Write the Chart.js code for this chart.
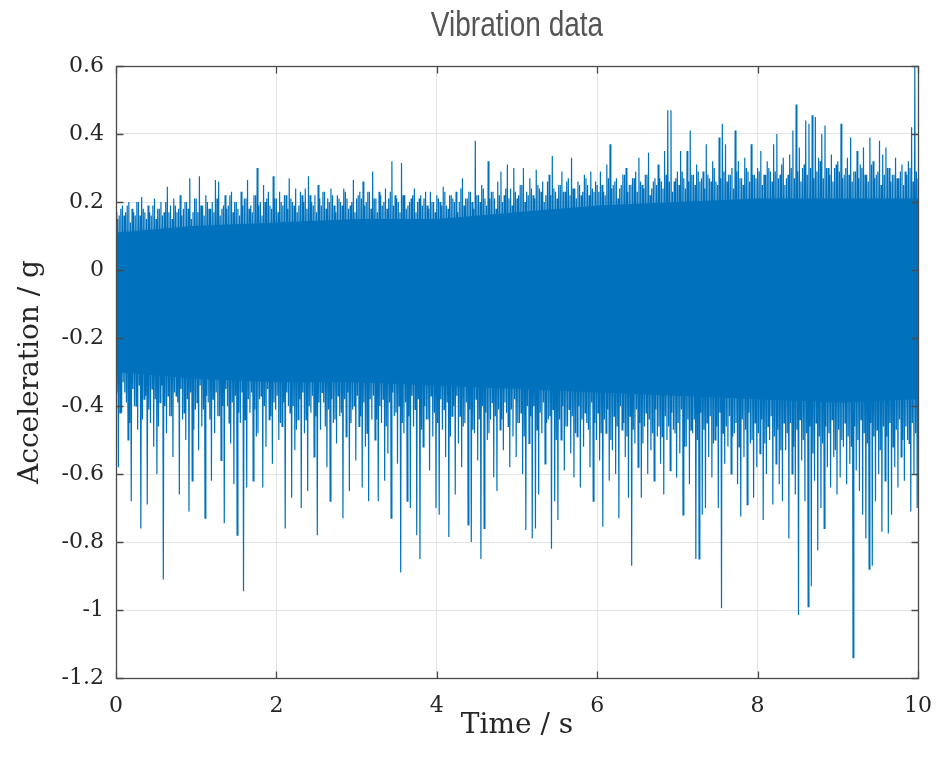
<!DOCTYPE html>
<html>
<head>
<meta charset="utf-8">
<script src="https://cdn.jsdelivr.net/npm/chart.js@4.4.1/dist/chart.umd.min.js"></script>
<style>
  html, body { margin: 0; padding: 0; background: #fff; }
  #wrap { width: 936px; height: 759px; position: relative; }
</style>
</head>
<body>
<div id="wrap"><canvas id="chart"></canvas></div>
<script>
const TITLE = "Vibration data";

// per 0.04 s: upper peak, lower fringe, upper fringe, lower peak
const SAMPLE_STEP = 0.04;
const upperPeaks = [
  0.17, 0.16, 0.19, 0.17, 0.20, 0.18, 0.16, 0.20, 0.215, 0.17,
  0.19, 0.16, 0.21, 0.18, 0.20, 0.17, 0.245, 0.19, 0.21, 0.17,
  0.22, 0.18, 0.20, 0.27, 0.17, 0.21, 0.276, 0.19, 0.22, 0.18,
  0.20, 0.265, 0.26, 0.18, 0.22, 0.19, 0.23, 0.20, 0.18, 0.23,
  0.21, 0.265, 0.19, 0.22, 0.30, 0.20, 0.25, 0.21, 0.19, 0.276,
  0.21, 0.23, 0.19, 0.22, 0.27, 0.20, 0.24, 0.19, 0.22, 0.24,
  0.276, 0.20, 0.22, 0.25, 0.19, 0.23, 0.21, 0.24, 0.19, 0.22,
  0.20, 0.24, 0.21, 0.19, 0.265, 0.21, 0.23, 0.26, 0.20, 0.23,
  0.29, 0.21, 0.23, 0.19, 0.24, 0.21, 0.32, 0.22, 0.20, 0.315,
  0.22, 0.19, 0.21, 0.24, 0.20, 0.22, 0.21, 0.19, 0.23, 0.20,
  0.22, 0.20, 0.245, 0.19, 0.22, 0.21, 0.23, 0.20, 0.27, 0.21,
  0.23, 0.20, 0.38, 0.22, 0.25, 0.21, 0.32, 0.23, 0.21, 0.26,
  0.29, 0.22, 0.31, 0.24, 0.30, 0.21, 0.25, 0.30, 0.23, 0.27,
  0.22, 0.295, 0.24, 0.26, 0.22, 0.28, 0.335, 0.23, 0.25, 0.29,
  0.23, 0.27, 0.33, 0.24, 0.26, 0.22, 0.28, 0.25, 0.29, 0.23,
  0.25, 0.29, 0.23, 0.31, 0.37, 0.25, 0.27, 0.24, 0.28, 0.30,
  0.25, 0.27, 0.29, 0.33, 0.25, 0.28, 0.345, 0.24, 0.27, 0.31,
  0.26, 0.35, 0.47, 0.47, 0.26, 0.29, 0.35, 0.27, 0.35, 0.41,
  0.28, 0.31, 0.26, 0.29, 0.37, 0.27, 0.32, 0.26, 0.39, 0.43,
  0.37, 0.28, 0.30, 0.41, 0.32, 0.27, 0.33, 0.29, 0.37, 0.28,
  0.30, 0.35, 0.28, 0.32, 0.29, 0.37, 0.40, 0.28, 0.33, 0.27,
  0.34, 0.41, 0.487, 0.36, 0.30, 0.44, 0.43, 0.455, 0.45, 0.33,
  0.40, 0.425, 0.30, 0.34, 0.30, 0.32, 0.43, 0.28, 0.33, 0.39,
  0.29, 0.35, 0.31, 0.36, 0.28, 0.39, 0.32, 0.28, 0.38, 0.34,
  0.36, 0.30, 0.28, 0.33, 0.27, 0.31, 0.29, 0.32, 0.42, 0.596, 0.27
];
const lowerFringe = [
  -0.36, -0.42, -0.33, -0.39, -0.45, -0.35, -0.40, -0.34, -0.44, -0.37,
  -0.41, -0.35, -0.38, -0.46, -0.34, -0.40, -0.37, -0.43, -0.36, -0.39,
  -0.35, -0.42, -0.38, -0.36, -0.47, -0.39, -0.34, -0.41, -0.37, -0.44,
  -0.38, -0.36, -0.43, -0.40, -0.35, -0.45, -0.39, -0.37, -0.42, -0.36,
  -0.44, -0.38, -0.36, -0.41, -0.48, -0.37, -0.40, -0.35, -0.43, -0.39,
  -0.37, -0.45, -0.39, -0.36, -0.42, -0.40, -0.47, -0.38, -0.36, -0.44,
  -0.40, -0.37, -0.43, -0.39, -0.36, -0.46, -0.41, -0.38, -0.44, -0.37,
  -0.42, -0.38, -0.36, -0.45, -0.40, -0.37, -0.43, -0.39, -0.48, -0.38,
  -0.37, -0.44, -0.40, -0.38, -0.46, -0.39, -0.36, -0.42, -0.40, -0.45,
  -0.39, -0.43, -0.37, -0.41, -0.38, -0.47, -0.40, -0.44, -0.37, -0.42,
  -0.45, -0.38, -0.41, -0.39, -0.49, -0.40, -0.37, -0.43, -0.46, -0.39,
  -0.41, -0.47, -0.38, -0.44, -0.40, -0.42, -0.48, -0.39, -0.43, -0.41,
  -0.44, -0.39, -0.46, -0.41, -0.38, -0.45, -0.42, -0.49, -0.40, -0.43,
  -0.40, -0.47, -0.42, -0.39, -0.45, -0.43, -0.41, -0.50, -0.44, -0.40,
  -0.46, -0.41, -0.43, -0.48, -0.40, -0.44, -0.42, -0.47, -0.39, -0.45,
  -0.42, -0.48, -0.44, -0.41, -0.50, -0.43, -0.46, -0.40, -0.45, -0.49,
  -0.43, -0.47, -0.41, -0.45, -0.51, -0.42, -0.44, -0.48, -0.41, -0.46,
  -0.49, -0.43, -0.46, -0.42, -0.48, -0.45, -0.41, -0.52, -0.44, -0.47,
  -0.44, -0.50, -0.42, -0.47, -0.45, -0.43, -0.51, -0.46, -0.42, -0.48,
  -0.46, -0.43, -0.49, -0.45, -0.52, -0.44, -0.47, -0.42, -0.50, -0.45,
  -0.48, -0.44, -0.51, -0.46, -0.43, -0.49, -0.47, -0.53, -0.45, -0.48,
  -0.45, -0.52, -0.47, -0.44, -0.50, -0.48, -0.46, -0.54, -0.45, -0.49,
  -0.51, -0.46, -0.48, -0.44, -0.53, -0.47, -0.50, -0.45, -0.49, -0.52,
  -0.46, -0.50, -0.44, -0.48, -0.51, -0.45, -0.49, -0.47, -0.53, -0.46,
  -0.49, -0.45, -0.52, -0.47, -0.44, -0.50, -0.46, -0.51, -0.45, -0.48
];
const upperFringe = [
  0.15, 0.18, 0.16, 0.19, 0.14, 0.17, 0.20, 0.16, 0.18, 0.15,
  0.17, 0.19, 0.15, 0.18, 0.16, 0.20, 0.17, 0.15, 0.19, 0.18,
  0.16, 0.20, 0.18, 0.15, 0.21, 0.17, 0.19, 0.16, 0.20, 0.18,
  0.17, 0.21, 0.16, 0.19, 0.18, 0.22, 0.17, 0.20, 0.16, 0.19,
  0.21, 0.18, 0.17, 0.22, 0.19, 0.16, 0.20, 0.23, 0.18, 0.21,
  0.17, 0.20, 0.22, 0.18, 0.21, 0.19, 0.17, 0.23, 0.20, 0.18,
  0.22, 0.19, 0.17, 0.21, 0.23, 0.18, 0.20, 0.22, 0.17, 0.21,
  0.19, 0.23, 0.18, 0.20, 0.17, 0.22, 0.21, 0.19, 0.23, 0.18,
  0.21, 0.17, 0.22, 0.20, 0.18, 0.23, 0.19, 0.21, 0.17, 0.22,
  0.18, 0.20, 0.22, 0.17, 0.21, 0.19, 0.23, 0.18, 0.20, 0.17,
  0.21, 0.19, 0.23, 0.18, 0.22, 0.20, 0.17, 0.24, 0.19, 0.21,
  0.23, 0.18, 0.22, 0.20, 0.24, 0.19, 0.21, 0.23, 0.18, 0.22,
  0.20, 0.24, 0.21, 0.19, 0.23, 0.22, 0.25, 0.20, 0.22, 0.24,
  0.21, 0.25, 0.23, 0.20, 0.26, 0.22, 0.24, 0.21, 0.25, 0.23,
  0.26, 0.22, 0.24, 0.21, 0.25, 0.23, 0.27, 0.22, 0.24, 0.26,
  0.23, 0.25, 0.22, 0.27, 0.24, 0.26, 0.21, 0.25, 0.28, 0.23,
  0.25, 0.27, 0.23, 0.26, 0.24, 0.28, 0.22, 0.26, 0.25, 0.27,
  0.24, 0.28, 0.26, 0.23, 0.27, 0.25, 0.29, 0.24, 0.26, 0.28,
  0.25, 0.29, 0.27, 0.24, 0.28, 0.26, 0.30, 0.25, 0.27, 0.29,
  0.26, 0.28, 0.24, 0.29, 0.27, 0.25, 0.30, 0.26, 0.28, 0.27,
  0.29, 0.25, 0.28, 0.30, 0.26, 0.29, 0.27, 0.31, 0.25, 0.28,
  0.30, 0.27, 0.29, 0.26, 0.31, 0.28, 0.30, 0.27, 0.29, 0.32,
  0.27, 0.30, 0.28, 0.26, 0.31, 0.29, 0.27, 0.30, 0.28, 0.26,
  0.29, 0.27, 0.30, 0.28, 0.26, 0.31, 0.27, 0.29, 0.25, 0.28,
  0.30, 0.26, 0.28, 0.27, 0.29, 0.25, 0.28, 0.30, 0.26, 0.29
];
const lowerPeaks = [
  -0.58, -0.42, -0.36, -0.50, -0.68, -0.40, -0.47, -0.76, -0.38, -0.69,
  -0.45, -0.52, -0.60, -0.39, -0.91, -0.48, -0.43, -0.55, -0.37, -0.66,
  -0.44, -0.50, -0.71, -0.62, -0.41, -0.53, -0.46, -0.73, -0.39, -0.62,
  -0.48, -0.43, -0.56, -0.745, -0.40, -0.51, -0.63, -0.78, -0.45, -0.945,
  -0.64, -0.42, -0.62, -0.49, -0.38, -0.64, -0.52, -0.44, -0.57, -0.41,
  -0.50, -0.46, -0.76, -0.40, -0.67, -0.53, -0.44, -0.70, -0.48, -0.65,
  -0.42, -0.55, -0.78, -0.47, -0.39, -0.58, -0.68, -0.45, -0.51, -0.43,
  -0.73, -0.49, -0.65, -0.41, -0.56, -0.46, -0.64, -0.52, -0.68, -0.44,
  -0.50, -0.68, -0.45, -0.62, -0.54, -0.73, -0.43, -0.57, -0.89, -0.48,
  -0.68, -0.70, -0.46, -0.78, -0.85, -0.52, -0.44, -0.59, -0.49, -0.70,
  -0.72, -0.47, -0.55, -0.785, -0.43, -0.66, -0.51, -0.58, -0.45, -0.75,
  -0.80, -0.48, -0.56, -0.85, -0.76, -0.50, -0.44, -0.61, -0.65, -0.47,
  -0.53, -0.42, -0.58, -0.49, -0.55, -0.45, -0.60, -0.765, -0.51, -0.79,
  -0.76, -0.66, -0.48, -0.57, -0.44, -0.82, -0.68, -0.735, -0.50, -0.59,
  -0.46, -0.54, -0.61, -0.49, -0.64, -0.52, -0.45, -0.58, -0.68, -0.50,
  -0.56, -0.755, -0.48, -0.62, -0.53, -0.60, -0.73, -0.47, -0.55, -0.67,
  -0.87, -0.51, -0.58, -0.67, -0.46, -0.60, -0.53, -0.62, -0.49, -0.57,
  -0.66, -0.50, -0.59, -0.47, -0.61, -0.54, -0.72, -0.52, -0.63, -0.48,
  -0.85, -0.85, -0.72, -0.70, -0.55, -0.61, -0.50, -0.70, -0.995, -0.57,
  -0.52, -0.60, -0.48, -0.63, -0.725, -0.55, -0.69, -0.51, -0.67, -0.58,
  -0.54, -0.735, -0.60, -0.50, -0.69, -0.57, -0.63, -0.68, -0.53, -0.79,
  -0.60, -0.66, -1.015, -0.56, -0.68, -0.99, -0.93, -0.62, -0.825, -0.70,
  -0.76, -0.58, -0.64, -0.55, -0.66, -0.61, -0.52, -0.63, -0.57, -1.14,
  -0.59, -0.65, -0.72, -0.79, -0.88, -0.87, -0.68, -0.60, -0.77, -0.62,
  -0.775, -0.72, -0.58, -0.64, -0.55, -0.62, -0.50, -0.71, -0.60, -0.70
];

// edges of the solid core of the trace, one reading per second
const bandTime = [0, 1, 2, 3, 4, 5, 6, 7, 8, 9, 10];
const bandTop = [0.11, 0.13, 0.14, 0.15, 0.15, 0.17, 0.19, 0.20, 0.21, 0.21, 0.21];
const bandBottom = [-0.30, -0.32, -0.33, -0.33, -0.34, -0.35, -0.36, -0.37, -0.38, -0.39, -0.38];

const BLUE = "#0072BD";

const signal = [];
upperPeaks.forEach((v, i) => {
  const t = i * SAMPLE_STEP;
  signal.push({ x: t, y: v });
  if (i < lowerPeaks.length) {
    signal.push({ x: t + SAMPLE_STEP / 4, y: lowerFringe[i] });
    signal.push({ x: t + SAMPLE_STEP / 2, y: upperFringe[i] });
    signal.push({ x: t + (3 * SAMPLE_STEP) / 4, y: lowerPeaks[i] });
  }
});
const coreTop = bandTime.map((t, i) => ({ x: t, y: bandTop[i] }));
const coreBottom = bandTime.map((t, i) => ({ x: t, y: bandBottom[i] }));

// matlab style box with inward ticks on all four sides
const boxPlugin = {
  id: "box",
  afterDraw(chart) {
    const { ctx, chartArea: a, scales } = chart;
    const L = Math.round(a.left) + 0.5, R = Math.round(a.right) + 0.5;
    const T = Math.round(a.top) + 0.5, B = Math.round(a.bottom) + 0.5;
    ctx.save();
    ctx.strokeStyle = "#4a4a4a";
    ctx.lineWidth = 1.3;
    ctx.strokeRect(L, T, R - L, B - T);
    const tl = 7;
    ctx.beginPath();
    scales.x.ticks.forEach((t) => {
      const px = Math.round(scales.x.getPixelForValue(t.value)) + 0.5;
      ctx.moveTo(px, B); ctx.lineTo(px, B - tl);
      ctx.moveTo(px, T); ctx.lineTo(px, T + tl);
    });
    scales.y.ticks.forEach((t) => {
      const py = Math.round(scales.y.getPixelForValue(t.value)) + 0.5;
      ctx.moveTo(L, py); ctx.lineTo(L + tl, py);
      ctx.moveTo(R, py); ctx.lineTo(R - tl, py);
    });
    ctx.stroke();
    ctx.restore();
  },
};

// title centred over the plot area, in a narrow sans like the original
const narrowTitle = {
  id: "narrowTitle",
  afterDraw(chart) {
    const { ctx, chartArea: a } = chart;
    ctx.save();
    ctx.font = "35px 'Liberation Sans', Arial, sans-serif";
    ctx.fillStyle = "#555555";
    ctx.textAlign = "center";
    ctx.textBaseline = "alphabetic";
    ctx.translate((a.left + a.right) / 2, 36);
    ctx.scale(0.8, 1);
    ctx.fillText(TITLE, 0, 0);
    ctx.restore();
  },
};

const tickFont = { family: "'DejaVu Serif', serif", size: 22 };
const labelFont = { family: "'DejaVu Serif', serif", size: 28 };

new Chart(document.getElementById("chart"), {
  type: "line",
  data: {
    datasets: [
      { data: coreTop, borderWidth: 0, pointRadius: 0, fill: false, backgroundColor: BLUE },
      { data: coreBottom, borderWidth: 0, pointRadius: 0, fill: "-1", backgroundColor: BLUE },
      { data: signal, borderColor: BLUE, borderWidth: 1.2, pointRadius: 0, tension: 0, fill: false },
    ],
  },
  options: {
    responsive: true,
    maintainAspectRatio: false,
    animation: false,
    layout: { padding: { top: 66, right: 18 } },
    plugins: {
      legend: { display: false },
      tooltip: { enabled: false },
      title: { display: false },
    },
    scales: {
      x: {
        type: "linear",
        min: 0,
        max: 10,
        ticks: { stepSize: 2, color: "#262626", font: tickFont, padding: 15, maxRotation: 0 },
        grid: { color: "#e3e3e3", drawTicks: false },
        border: { display: false },
        title: { display: true, text: "Time / s", color: "#262626", font: labelFont, padding: { top: 0, bottom: 16 } },
        afterFit: (s) => { s.height = 81; s.paddingLeft = 0; s.paddingRight = 0; },
      },
      y: {
        min: -1.2,
        max: 0.6,
        ticks: {
          stepSize: 0.2,
          color: "#262626",
          font: tickFont,
          padding: 12,
          callback: (v) => String(Number(v.toFixed(1))),
        },
        grid: { color: "#e3e3e3", drawTicks: false },
        border: { display: false },
        title: { display: true, text: "Acceleration / g", color: "#262626", font: labelFont, padding: { top: 14, bottom: 0 } },
        afterFit: (s) => { s.width = 116; s.paddingTop = 0; s.paddingBottom = 0; },
      },
    },
  },
  plugins: [boxPlugin, narrowTitle],
});
</script>
</body>
</html>
